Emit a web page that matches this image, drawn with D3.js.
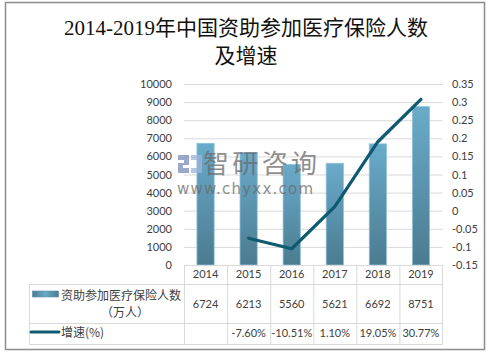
<!DOCTYPE html>
<html><head><meta charset="utf-8">
<script src="https://cdn.jsdelivr.net/npm/d3@7/dist/d3.min.js"></script>
<style>
body{margin:0;background:#fff;}
svg{display:block;}
</style></head>
<body>
<svg id="c" width="492" height="354"></svg>
<script>
const years = ["2014","2015","2016","2017","2018","2019"];
const people = [6724, 6213, 5560, 5621, 6692, 8751];
const growth = [null, -0.0760, -0.1051, 0.0110, 0.1905, 0.3077];
const growthLabels = ["", "-7.60%", "-10.51%", "1.10%", "19.05%", "30.77%"];
const leftTicks = [0,1000,2000,3000,4000,5000,6000,7000,8000,9000,10000];
const rightTicks = [-0.15,-0.1,-0.05,0,0.05,0.1,0.15,0.2,0.25,0.3,0.35];
const titleLines = ["2014-2019年中国资助参加医疗保险人数","及增速"];
const seriesNames = ["资助参加医疗保险人数","（万人）"];
const lineName = "增速(%)";

const svg = d3.select("#c");
const numFont = "Lato, 'Open Sans', sans-serif";
const cjkFont = "'Noto Sans CJK SC', sans-serif";

// outer border
svg.append("rect").attr("x",5.5).attr("y",2.5).attr("width",479).attr("height",347)
  .attr("fill","#fff").attr("stroke","#8c8c8c").attr("stroke-width",1.5);

// title
svg.selectAll("text.title").data(titleLines).enter().append("text")
  .attr("x",246).attr("y",(d,i)=>34.5+i*28)
  .attr("text-anchor","middle")
  .attr("font-family","'Liberation Serif', 'Noto Sans CJK SC', serif")
  .attr("font-size",21).attr("fill","#111")
  .text(d=>d);

const x = d3.scaleBand().domain(years).range([184,442.5]).paddingInner(0.6).paddingOuter(0.3);
const xb = d3.scaleBand().domain(years).range([184,442.5]);
const yL = d3.scaleLinear().domain([0,10000]).range([265,84]);
const yR = d3.scaleLinear().domain([-0.15,0.35]).range([265,84]);

// gridlines
svg.append("g").selectAll("line").data(leftTicks).enter().append("line")
  .attr("x1",184).attr("x2",442.5).attr("y1",d=>yL(d)+0.5).attr("y2",d=>yL(d)+0.5)
  .attr("stroke","#d9d9d9").attr("stroke-width",1);

// left axis labels
const axL = d3.axisLeft(yL).tickValues(leftTicks).tickSize(0).tickPadding(0).tickFormat(d3.format("d"));
const gL = svg.append("g").attr("transform","translate(172,0)").call(axL);
gL.select(".domain").remove();
gL.selectAll("text").attr("font-family",numFont).attr("font-size",11).attr("fill","#404040");

const axR = d3.axisRight(yR).tickValues(rightTicks).tickSize(0).tickPadding(0).tickFormat(d=>String(+d.toFixed(2)));
const gR = svg.append("g").attr("transform","translate(452,0)").call(axR);
gR.select(".domain").remove();
gR.selectAll("text").attr("font-family",numFont).attr("font-size",11).attr("fill","#404040");

// gradient
const defs = svg.append("defs");
const grad = defs.append("linearGradient").attr("id","bg").attr("x1",0).attr("y1",0).attr("x2",0).attr("y2",1);
grad.append("stop").attr("offset","0%").attr("stop-color","#6aabcb");
grad.append("stop").attr("offset","100%").attr("stop-color","#4b7b90");
const lg = defs.append("linearGradient").attr("id","lg").attr("x1",0).attr("y1",0).attr("x2",1).attr("y2",0);
lg.append("stop").attr("offset","0%").attr("stop-color","#4b7b90");
lg.append("stop").attr("offset","50%").attr("stop-color","#6aabcb");
lg.append("stop").attr("offset","100%").attr("stop-color","#4b7b90");

// bars
svg.append("g").selectAll("rect").data(people).enter().append("rect")
  .attr("x",(d,i)=>x(years[i])).attr("width",x.bandwidth())
  .attr("y",d=>yL(d)).attr("height",d=>yL(0)-yL(d))
  .attr("fill","url(#bg)").attr("stroke","#8fc3dc").attr("stroke-width",0.8);

// watermark
const wm = svg.append("g").attr("opacity",0.75);
wm.append("path").attr("d","M178,155 h11 v10 h-6 v3 h6 v5 h-11 v-10 h6 v-3 h-6 z").attr("fill","#7c8cb8");
wm.append("path").attr("d","M191,155 h11 v18 h-11 v-5 h6 v-8 h-6 z").attr("fill","#9fb6dc");
wm.append("text").attr("x",203).attr("y",173).attr("font-family",cjkFont).attr("font-size",26)
  .attr("textLength",114).attr("lengthAdjust","spacing").attr("fill","#6a6a6a").text("智研咨询");
wm.append("text").attr("x",177).attr("y",194).attr("font-family","'DejaVu Sans', sans-serif").attr("font-size",15)
  .attr("textLength",136).attr("lengthAdjust","spacing").attr("fill","#6a6a6a").text("www.chyxx.com");

// line
const pts = growth.map((v,i)=>[xb(years[i])+xb.bandwidth()/2, v]).filter(p=>p[1]!==null);
svg.append("path").datum(pts)
  .attr("d",d3.line().x(p=>p[0]).y(p=>yR(p[1])))
  .attr("fill","none").attr("stroke","#0f5a70").attr("stroke-width",3.2)
  .attr("stroke-linejoin","round").attr("stroke-linecap","round");

// table
const tcol = "#d9d9d9";
const tbl = svg.append("g");
tbl.append("line").attr("x1",184).attr("x2",442.5).attr("y1",265.5).attr("y2",265.5).attr("stroke",tcol);
[284,323,344].forEach(yy=>{
  tbl.append("line").attr("x1",29).attr("x2",442.5).attr("y1",yy+0.5).attr("y2",yy+0.5).attr("stroke",tcol);
});
tbl.append("line").attr("x1",29.5).attr("x2",29.5).attr("y1",284).attr("y2",344.5).attr("stroke",tcol);
years.forEach((y,i)=>{
  const xx = xb(y);
  tbl.append("line").attr("x1",xx+0.5).attr("x2",xx+0.5).attr("y1",265).attr("y2",344.5).attr("stroke",tcol);
});
tbl.append("line").attr("x1",442.5).attr("x2",442.5).attr("y1",265).attr("y2",344.5).attr("stroke",tcol);

const cx = y => xb(y)+xb.bandwidth()/2;
tbl.selectAll("text.yr").data(years).enter().append("text")
  .attr("x",d=>cx(d)).attr("y",278).attr("text-anchor","middle")
  .attr("font-family",numFont).attr("font-size",11).attr("fill","#404040").text(d=>d);
tbl.selectAll("text.pv").data(people).enter().append("text")
  .attr("x",(d,i)=>cx(years[i])).attr("y",307.5).attr("text-anchor","middle")
  .attr("font-family",numFont).attr("font-size",11).attr("fill","#404040").text(d=>d);
tbl.selectAll("text.gv").data(growthLabels).enter().append("text")
  .attr("x",(d,i)=>cx(years[i])).attr("y",337).attr("text-anchor","middle")
  .attr("font-family",numFont).attr("font-size",11).attr("fill","#404040").text(d=>d);

// legend in table
tbl.append("rect").attr("x",32.5).attr("y",291).attr("width",26).attr("height",6)
  .attr("fill","url(#lg)").attr("stroke","#5d8ea5").attr("stroke-width",0.6);
tbl.append("text").attr("x",61).attr("y",299.5).attr("font-family",cjkFont).attr("font-size",12)
  .attr("fill","#404040").text(seriesNames[0]);
tbl.append("text").attr("x",125).attr("y",316.5).attr("text-anchor","middle").attr("font-family",cjkFont).attr("font-size",12)
  .attr("fill","#404040").text(seriesNames[1]);
tbl.append("line").attr("x1",31).attr("x2",59).attr("y1",332).attr("y2",332)
  .attr("stroke","#0f5a70").attr("stroke-width",3).attr("stroke-linecap","round");
tbl.append("text").attr("x",61).attr("y",336.5).attr("font-family",cjkFont).attr("font-size",12)
  .attr("fill","#404040").text(lineName);
</script>
</body></html>
